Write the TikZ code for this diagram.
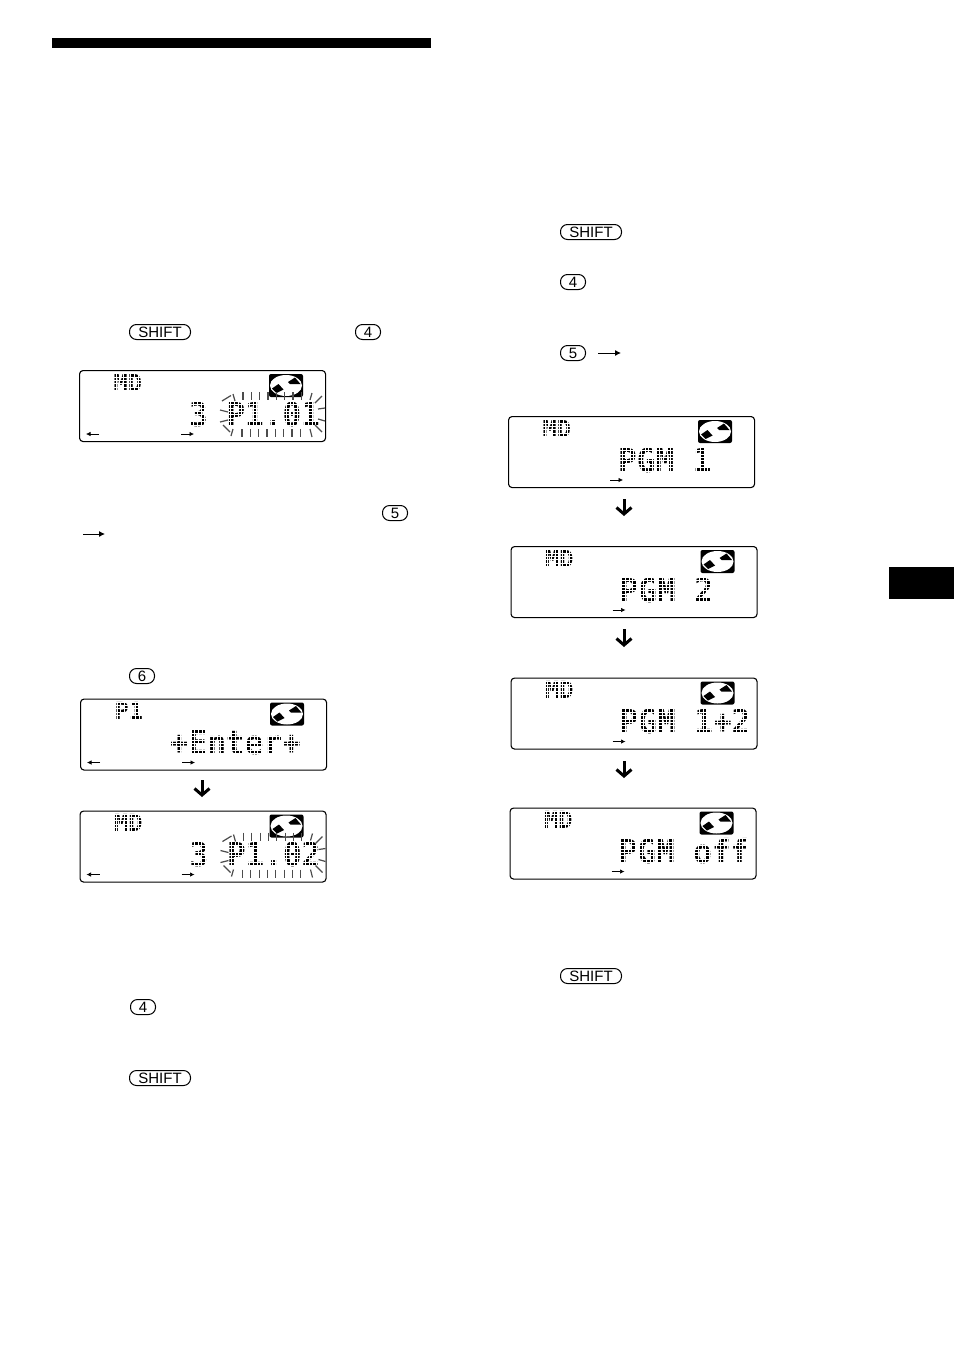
\documentclass[tikz,border=0pt]{standalone}
\usepackage{fontspec}
\setmainfont{Liberation Sans}
\newfontfamily\lcdfont{DejaVu Sans Mono Bold}
\usetikzlibrary{arrows.meta}
\tikzset{
  lcdbox/.style={draw=black,line width=1.1pt,rounded corners=3.5pt,minimum width=246pt,minimum height=71pt,anchor=north west,inner sep=0pt},
  lcdmain/.style={anchor=base west,inner sep=0pt,xscale=.94,font=\lcdfont\fontsize{33}{33}\selectfont},
  lcdlabel/.style={anchor=base west,inner sep=0pt,font=\lcdfont\fontsize{23.5}{24}\selectfont},
  dotgrid/.style={white,line width=.8pt,xstep=3.7pt,ystep=3.45pt},
  ray/.style={draw=black!70,line width=1.2pt},
  smallarrow/.style={draw=black,line width=.7pt,-{Latex[length=4.5pt,width=4.5pt]}},
  keyarrow/.style={draw=black,line width=.9pt,-{Latex[length=6pt,width=6pt]}},
  downarrow/.style={draw=black,line width=3pt,-{Straight Barb[length=6.5pt,width=15pt,line width=3pt]}},
  keypill/.style={draw=black,line width=1pt,rounded corners=7pt,minimum height=15pt,inner sep=0pt,anchor=north west,font=\fontsize{15}{16}\selectfont},
  bar/.style={fill=black,draw=none},
}
\newcommand{\lcdicon}{%
  \fill[black,rounded corners=2pt] (190,4) rectangle (224,27);
  \fill[white] (207,15.5) ellipse [x radius=16pt,y radius=10.5pt];
  \fill[black] (193,18.5) -- (199.5,14) -- (204.5,19.5) -- (197.5,23) -- cycle;
  \fill[black] (209,12) -- (216,7.5) -- (221.5,14) -- (211,14) -- cycle;
}
% #1 name, #2 x, #3 y, #4 label, #5 main text, #6 main x
\newcommand{\lcdshow}[6]{%
  \node[lcdbox] (#1) at (#2,#3) {};
  \begin{scope}[shift={(#2,#3)}]
    \node[lcdlabel] (#1label) at (34.5,21) {#4};
    \draw[dotgrid] (34,3) grid (66,22.5);
    \lcdicon
    \node[lcdmain] (#1main) at (#6,56) {#5};
    \draw[dotgrid] (#6,31) grid (243,57);
    \coordinate (#1ra) at (102,64);
    \coordinate (#1rb) at (115,64);
    \draw[smallarrow] (#1ra) -- (#1rb);
  \end{scope}
}
\newcommand{\lcdleft}[3]{%
  \begin{scope}[shift={(#2,#3)}]
    \coordinate (#1la) at (20,64);
    \coordinate (#1lb) at (7,64);
    \draw[smallarrow] (#1la) -- (#1lb);
  \end{scope}
}
\newcommand{\lcdrays}[2]{%
  \begin{scope}[shift={(#1,#2)}]
    \foreach \tx in {164,172.3,180.6,189,197.3,205.6,214,222.3} \draw[ray] (\tx,22) -- (\tx,30);
    \foreach \tx in {163,171.3,179.6,188,196.3,204.6,213,221.3} \draw[ray] (\tx,59) -- (\tx,67);
    \draw[ray] (154,24) -- (156,31);
    \draw[ray] (152,66) -- (154,59);
    \draw[ray] (143,31) -- (152,25.5);
    \draw[ray] (141,40) -- (149,42);
    \draw[ray] (141,52) -- (149,50);
    \draw[ray] (144,55) -- (151,62);
    \draw[ray] (233,23) -- (231,30);
    \draw[ray] (233,67) -- (231,59);
    \draw[ray] (243,26) -- (236,33);
    \draw[ray] (239,39) -- (246,38);
    \draw[ray] (239,49) -- (246,51);
    \draw[ray] (236,55) -- (243,62);
  \end{scope}
}
\begin{document}
\begin{tikzpicture}[x=1pt,y=-1pt]
\useasboundingbox (0,0) rectangle (954,1352);
\fill[white] (0,0) rectangle (954,1352);
\fill[bar] (52,38) rectangle (431,48);
\fill[bar] (889,567) rectangle (954,599);

% left column keys
\node[keypill,minimum width=61pt] (ks1) at (129,324) {SHIFT};
\node[keypill,minimum width=25pt] (kf1) at (355,324) {4};
\node[keypill,minimum width=25pt] (kv1) at (382,505) {5};
\coordinate (ka1) at (83,534);
\coordinate (kb1) at (105,534);
\draw[keyarrow] (ka1) -- (kb1);
\node[keypill,minimum width=25pt] (kx1) at (129,668) {6};
\node[keypill,minimum width=25pt] (kf2) at (130,999) {4};
\node[keypill,minimum width=61pt] (ks2) at (129,1070) {SHIFT};

% right column keys
\node[keypill,minimum width=61pt] (ks3) at (560,224) {SHIFT};
\node[keypill,minimum width=25pt] (kf3) at (560,274) {4};
\node[keypill,minimum width=25pt] (kv3) at (560,345) {5};
\coordinate (ka3) at (598,353);
\coordinate (kb3) at (621,353);
\draw[keyarrow] (ka3) -- (kb3);
\node[keypill,minimum width=61pt] (ks4) at (560,968) {SHIFT};

% left displays
\lcdshow{a}{79}{370}{MD}{3 P1.01}{110}
\lcdleft{a}{79}{370}
\lcdrays{79}{370}
\lcdshow{b}{80}{698.5}{P1}{+Enter+}{90}
\lcdleft{b}{80}{698.5}
\lcdshow{c}{79.5}{810.5}{MD}{3 P1.02}{110}
\lcdleft{c}{79.5}{810.5}
\lcdrays{79.5}{810.5}

% right displays
\lcdshow{d}{508}{416}{MD}{PGM 1}{110}
\lcdshow{e}{510.5}{546}{MD}{PGM 2}{109}
\lcdshow{f}{510.5}{677.5}{MD}{PGM 1+2}{109}
\lcdshow{g}{509.5}{807.5}{MD}{PGM off}{109}

% arrows between displays
\coordinate (ab) at (202,780);
\coordinate (ae) at (202,797);
\draw[downarrow] (ab) -- (ae);
\coordinate (de1) at (624,499);
\coordinate (de2) at (624,516);
\draw[downarrow] (de1) -- (de2);
\coordinate (ef1) at (624,629);
\coordinate (ef2) at (624,647);
\draw[downarrow] (ef1) -- (ef2);
\coordinate (fg1) at (624,761);
\coordinate (fg2) at (624,778);
\draw[downarrow] (fg1) -- (fg2);
\end{tikzpicture}
\end{document}
